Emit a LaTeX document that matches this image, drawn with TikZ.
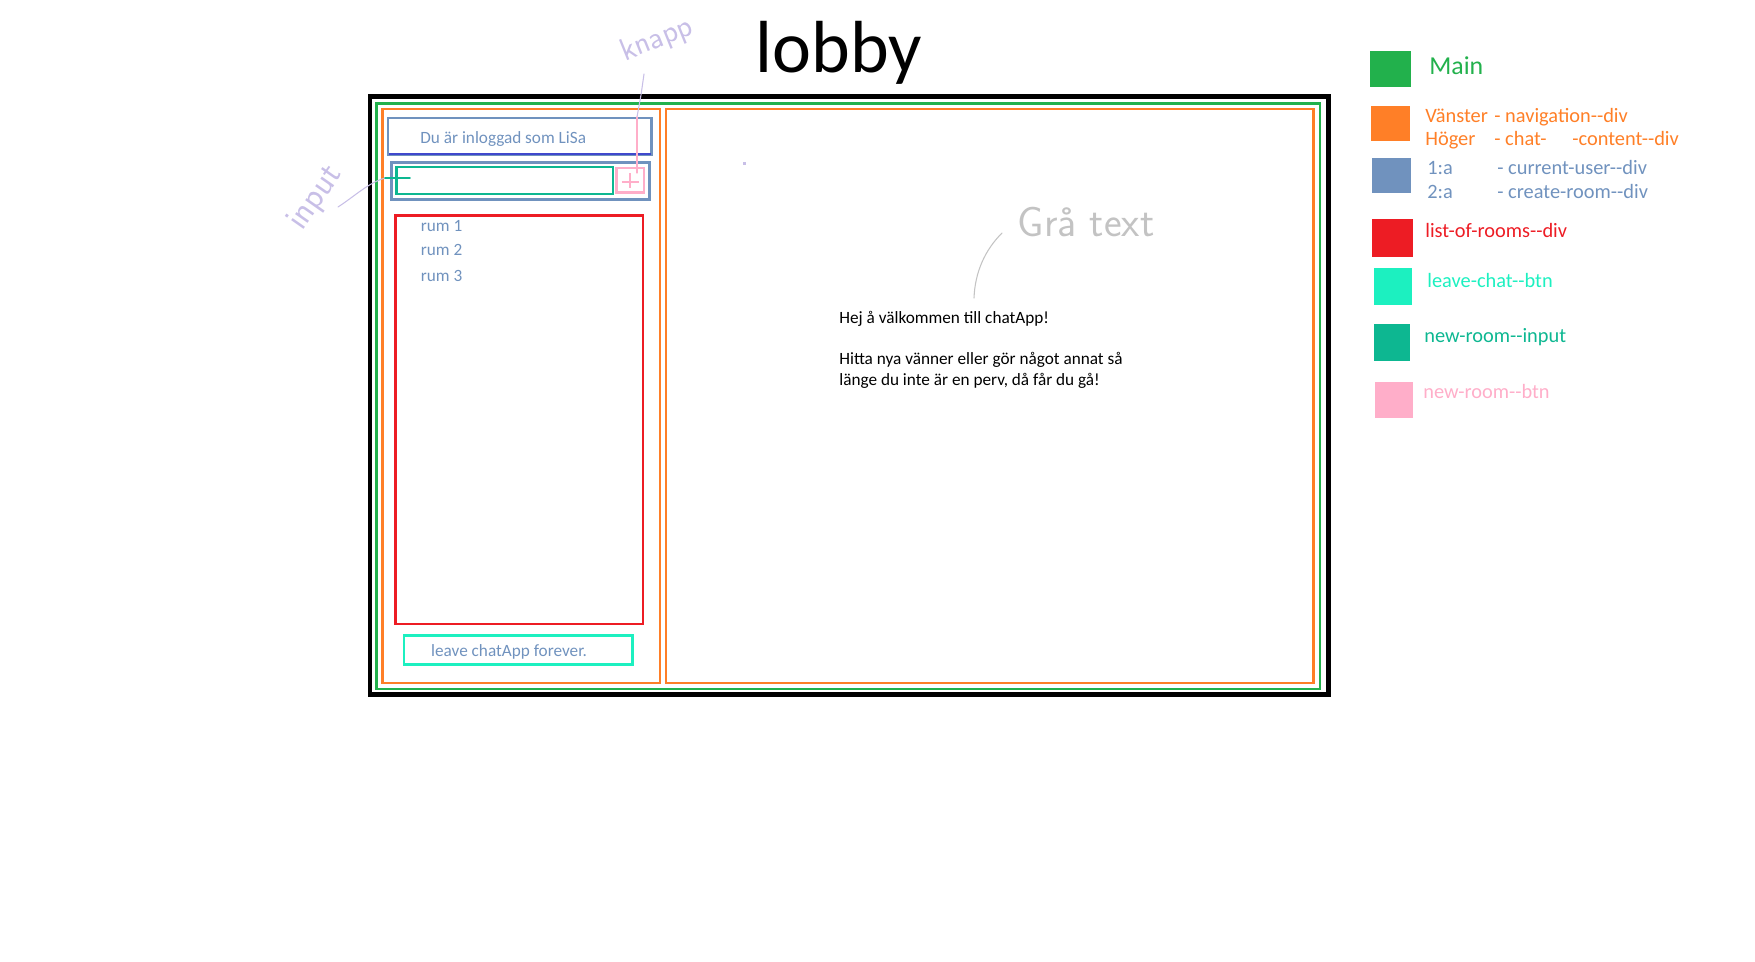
\documentclass[tikz,border=0pt]{standalone}
\usepackage{fontspec}
\setmainfont{Carlito}
\usetikzlibrary{fit,positioning}
\definecolor{mainGreen}{RGB}{34,177,76}
\definecolor{navOrange}{RGB}{255,127,39}
\definecolor{greyBlue}{RGB}{112,146,190}
\definecolor{indigoLine}{RGB}{63,72,204}
\definecolor{listRed}{RGB}{237,28,36}
\definecolor{leaveTurq}{RGB}{28,240,192}
\definecolor{inputTeal}{RGB}{13,183,145}
\definecolor{btnPink}{RGB}{255,174,201}
\definecolor{penLav}{RGB}{200,191,231}
\definecolor{penGrey}{RGB}{195,195,195}

\begin{document}
\begin{tikzpicture}[
  x=0.02cm, y=-0.02cm,
  wire/.style={draw, line width=1.6pt, inner sep=0pt},
  legSq/.style={inner sep=0pt},
  boxText/.style={
    font=\fontsize{9.8}{12}\selectfont, text=greyBlue,
    anchor=base west, inner sep=0pt
  },
  bodyText/.style={
    font=\fontsize{9.8}{12}\selectfont,
    anchor=base west, inner sep=0pt
  },
  legText/.style={
    font=\fontsize{11.6}{14}\selectfont,
    anchor=base west, inner sep=0pt
  },
  hand/.style={font=\sffamily\fontsize{20}{20}\selectfont, inner sep=0pt},
  pen/.style={line width=0.6pt, line cap=round, line join=round}
]
\useasboundingbox (0,0) rectangle (1755,962);

% --- Rubrik ---
\node[font=\fontsize{42}{50}\selectfont, anchor=base, inner sep=0pt]
  (title) at (839,73) {lobby};

% --- Ramar ---
\node[wire, draw=black, line width=2.8pt, fit={(370,96.5) (1328.5,694.5)}] (frame) {};
\node[wire, draw=mainGreen, fit={(376.5,103.5) (1320,689)}] (mainBox) {};
\node[wire, draw=navOrange, fit={(382.5,109) (660,683)}] (navBox) {};
\node[wire, draw=navOrange, fit={(666,109) (1313.5,683)}] (chatBox) {};

% --- Vänster kolumn ---
\node[wire, draw=greyBlue, fit={(388,118) (651.5,155)}] (userBox) {};
\draw[indigoLine, line width=1.7pt] (389,154) -- (650.5,154);
\node[boxText] (userText) at (420,143.5) {Du är inloggad som LiSa};

\node[wire, draw=greyBlue, fit={(391.3,162.5) (649.7,199.2)}] (roomBox) {};
\node[wire, draw=inputTeal, fit={(396.3,167) (613,194)}] (inputBox) {};
\node[wire, draw=btnPink, fit={(616.3,168) (644,192.5)}] (addBtn) {};
\draw[btnPink, line width=1.2pt]
  (621.7,181.7) -- (639.3,181.7) (630,173.3) -- (630,188.3);

\node[wire, draw=listRed, fit={(395.3,215.3) (643,624)}] (listBox) {};
\node[boxText] (rum1) at (420.5,231.7) {rum 1};
\node[boxText] (rum2) at (420.5,256) {rum 2};
\node[boxText] (rum3) at (420.5,281.7) {rum 3};

\node[wire, draw=leaveTurq, fit={(404,635.3) (632.7,664.8)}] (leaveBtn) {};
\node[boxText, anchor=base] (leaveText) at (509,657) {leave chatApp forever.};

% --- Höger kolumn ---
\node[bodyText] (hej) at (839,323.3) {Hej å välkommen till chatApp!};
\node[bodyText] (hitta) at (839,365) {Hitta nya vänner eller gör något annat så};
\node[bodyText] (lange) at (839,385.7) {länge du inte är en perv, då får du gå!};

% --- Anteckningar ---
\node[hand, text=penLav, rotate=55] (inputNote) at (316,198) {input};
\node[hand, text=penLav, rotate=22, font=\sffamily\fontsize{18}{18}\selectfont]
  (knappNote) at (657,40) {knapp};
\node[hand, text=penGrey, font=\sffamily\fontsize{24}{24}\selectfont]
  (graNote) at (1086,222) {Grå text};

\coordinate (inFoot) at (338,207);
\coordinate (inTip) at (385,178);
\coordinate (inEnd) at (410,178);
\draw[pen, penLav] (inFoot) .. controls (355,196) and (368,183) .. (inTip);
\draw[pen, inputTeal, line width=1pt] (inTip) -- (inEnd);

\coordinate (knFoot) at (644,74);
\coordinate (knTip) at (637,117);
\coordinate (knEnd) at (637,173);
\draw[pen, penLav] (knFoot) -- (641,95) -- (knTip);
\draw[pen, btnPink] (knTip) -- (knEnd);

\coordinate (graFoot) at (1002,233);
\coordinate (graEnd) at (974,298);
\draw[pen, penGrey] (graFoot) .. controls (985,250) and (975,272) .. (graEnd);

\fill[penLav] (742.5,162.5) rectangle ++(3,3);

% --- Förklaring ---
\node[legSq, fill=mainGreen, fit={(1370,51) (1411,87)}] (sqMain) {};
\node[legSq, fill=navOrange, fit={(1371,106) (1410,141)}] (sqNav) {};
\node[legSq, fill=greyBlue, fit={(1372,158) (1411,193)}] (sqUser) {};
\node[legSq, fill=listRed, fit={(1372,219) (1413,257)}] (sqList) {};
\node[legSq, fill=leaveTurq, fit={(1374,268) (1412,305)}] (sqLeave) {};
\node[legSq, fill=inputTeal, fit={(1374,324) (1410,361)}] (sqInput) {};
\node[legSq, fill=btnPink, fit={(1375,382) (1413,418)}] (sqBtn) {};

\node[legText, text=mainGreen, font=\fontsize{14.7}{18}\selectfont] (legMain) at (1429,75) {Main};
\node[legText, text=navOrange] (legLeft) at (1425,122.7) {Vänster};
\node[legText, text=navOrange] (legLeftB) at (1494,122.7) {- navigation-{}-div};
\node[legText, text=navOrange] (legRight) at (1425,146) {Höger};
\node[legText, text=navOrange] (legRightB) at (1494,146) {- chat-};
\node[legText, text=navOrange] (legRightC) at (1572,146) {-content-{}-div};
\node[legText, text=greyBlue] (legOne) at (1427,175) {1:a};
\node[legText, text=greyBlue] (legOneB) at (1497,175) {- current-user-{}-div};
\node[legText, text=greyBlue] (legTwo) at (1427,199) {2:a};
\node[legText, text=greyBlue] (legTwoB) at (1497,199) {- create-room-{}-div};
\node[legText, text=listRed] (legList) at (1425,237.3) {list-of-rooms-{}-div};
\node[legText, text=leaveTurq] (legLeave) at (1427,287.3) {leave-chat-{}-btn};
\node[legText, text=inputTeal] (legInput) at (1424,342.7) {new-room-{}-input};
\node[legText, text=btnPink] (legBtn) at (1423,398.3) {new-room-{}-btn};

\end{tikzpicture}
\end{document}
